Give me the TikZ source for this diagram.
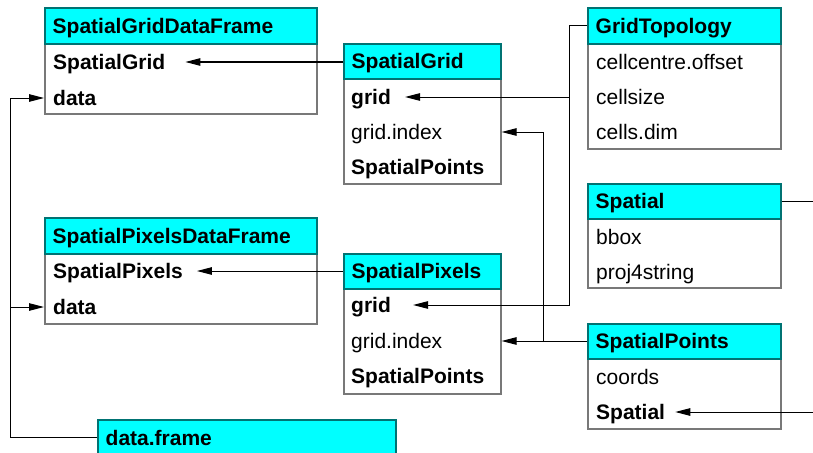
\documentclass[tikz,border=0pt]{standalone}
\usepackage{fontspec}
\setmainfont{Liberation Sans}
\usetikzlibrary{arrows.meta}
\definecolor{boxcyan}{RGB}{0,255,255}
\definecolor{boxedge}{RGB}{120,120,120}
\definecolor{hdredge}{RGB}{0,115,115}
\tikzset{
  boxbody/.style={rectangle, anchor=north west, draw=boxedge, line width=1.6pt, inner sep=0pt, fill=white},
  boxhead/.style={rectangle, anchor=north west, draw=hdredge, line width=1.6pt, inner sep=0pt, fill=boxcyan},
  txt/.style={anchor=west, inner sep=0pt, text height=15pt, text depth=0pt, font=\fontsize{21}{25}\selectfont},
  title/.style={txt, font=\fontsize{21}{25}\selectfont\bfseries},
  brow/.style={txt, font=\fontsize{21}{25}\selectfont\bfseries},
  conn/.style={draw=black, line width=1pt},
  arr/.style={conn, -{Triangle[length=15pt,width=7.5pt]}},
}
\newcommand\umlbox[7]{%
  \node[boxbody, minimum width=#4pt, minimum height=#6pt] (#1) at (#2,#3) {};
  \node[boxhead, minimum width=#4pt, minimum height=#5pt] (#1-h) at (#2,#3) {};
  \node[title] (#1-t) at ([xshift=8.5pt]#1-h.west) {#7};
}
\begin{document}
\begin{tikzpicture}[x=1pt, y=-1pt]
\useasboundingbox (0,0) rectangle (813,452);
% class boxes
\umlbox{sgdf}{44}{7}{272}{36}{106}{SpatialGridDataFrame}
\node[brow] (sgdf-1) at (53,62) {SpatialGrid};
\node[brow] (sgdf-2) at (53,98) {data};

\umlbox{sg}{343}{43}{157}{35}{140}{SpatialGrid}
\node[brow] (sg-1) at (351,97) {grid};
\node[txt]  (sg-2) at (351,132) {grid.index};
\node[brow] (sg-3) at (351,167) {SpatialPoints};

\umlbox{gt}{587}{7}{193}{36}{141}{GridTopology}
\node[txt] (gt-1) at (596,62) {cellcentre.offset};
\node[txt] (gt-2) at (596,97) {cellsize};
\node[txt] (gt-3) at (596,132) {cells.dim};

\umlbox{spatial}{587}{183}{193}{35}{104}{Spatial}
\node[txt] (spatial-1) at (596,237) {bbox};
\node[txt] (spatial-2) at (596,272) {proj4string};

\umlbox{sp}{587}{323}{193}{35}{105}{SpatialPoints}
\node[txt]  (sp-1) at (596,377) {coords};
\node[brow] (sp-2) at (596,412) {Spatial};

\umlbox{spdf}{44}{217}{272}{36}{106}{SpatialPixelsDataFrame}
\node[brow] (spdf-1) at (53,271) {SpatialPixels};
\node[brow] (spdf-2) at (53,307) {data};

\umlbox{spix}{343}{253}{157}{35}{140}{SpatialPixels}
\node[brow] (spix-1) at (351,305) {grid};
\node[txt]  (spix-2) at (351,341) {grid.index};
\node[brow] (spix-3) at (351,376) {SpatialPoints};

\umlbox{df}{97}{419}{298}{36}{60}{data.frame}

% bus coordinates
\coordinate (leftbus) at (10,0);
\coordinate (gtbus) at (569,0);
\coordinate (spbus) at (543,0);
\coordinate (rightedge) at (813,0);

% connectors
\draw[arr] (sg-h.west |- sgdf-1) -- ([xshift=20pt]sgdf-1.east);
\draw[arr] (spix-h.west |- spdf-1) -- ([xshift=14pt]spdf-1.east);

\draw[arr] (gt-h.west) -| (gtbus |- spix-1) -- ([xshift=22pt]spix-1.east);
\draw[arr] (gtbus |- sg-1) -- ([xshift=14pt]sg-1.east);

\draw[arr] (sp-h.west |- spix-2) -- (spix.east |- spix-2);
\draw[arr] (spbus |- spix-2) |- (sg.east |- sg-2);

\draw[conn] (spatial-h.east) -- (spatial-h.east -| rightedge);
\draw[arr] (rightedge |- sp-2) -- ([xshift=10pt]sp-2.east);

\draw[arr] (df-h.west) -| (leftbus |- sgdf-2) -- (sgdf.west |- sgdf-2);
\draw[arr] (leftbus |- spdf-2) -- (spdf.west |- spdf-2);
\end{tikzpicture}
\end{document}
